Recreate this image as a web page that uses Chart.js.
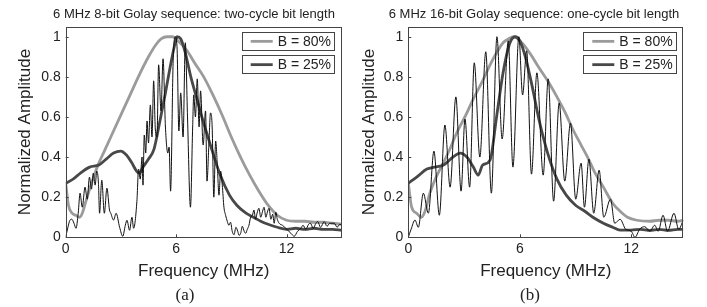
<!DOCTYPE html>
<html lang="en">
<head>
<meta charset="UTF-8" />
<title>Golay sequence spectra</title>
<script src="https://cdn.jsdelivr.net/npm/chart.js"></script>
<style>
  body { margin: 0; background: #fff; }
  #wrap { position: relative; width: 707px; height: 307px; }
  canvas { position: absolute; top: 0; }
</style>
</head>
<body>
<div id="wrap">
  <canvas id="chartA" width="353" height="307" style="left:0"></canvas>
  <canvas id="chartB" width="354" height="307" style="left:353px"></canvas>
</div>
<script>
// ---- tick labels ----
const xTicks = [0, 6, 12];
const yTicks = [0, 0.2, 0.4, 0.6, 0.8, 1];

// ---- (a) 8-bit Golay, two-cycle bit length ----
const aF80 = [0, 0.15, 0.35, 0.55, 0.75, 0.9, 1.1, 1.3, 1.55, 1.8, 2.1, 2.5, 3.0, 3.5, 4.0, 4.5, 4.9, 5.2, 5.5, 5.8, 6.1, 6.6, 7.0, 7.5, 8.0, 8.5, 9.0, 9.5, 10.0, 10.5, 11.0, 11.5, 12.0, 12.5, 13.0, 13.5, 14.0, 14.5, 15.0];
const aV80 = [0.27, 0.16, 0.12, 0.11, 0.10, 0.12, 0.18, 0.24, 0.31, 0.37, 0.43, 0.51, 0.61, 0.71, 0.81, 0.9, 0.96, 0.99, 1.0, 1.0, 0.98, 0.93, 0.87, 0.8, 0.71, 0.61, 0.5, 0.4, 0.31, 0.23, 0.16, 0.11, 0.085, 0.08, 0.08, 0.075, 0.075, 0.07, 0.065];

const aF25 = [0, 0.4, 0.8, 1.3, 1.8, 2.2, 2.6, 3.0, 3.3, 3.6, 3.85, 4.0, 4.2, 4.5, 4.8, 5.1, 5.4, 5.7, 5.9, 6.05, 6.25, 6.5, 6.8, 7.1, 7.4, 7.9, 8.4, 8.9, 9.3, 9.8, 10.2, 10.6, 11.0, 11.5, 12.0, 12.5, 13.0, 13.5, 14.0, 14.5, 15.0];
const aV25 = [0.27, 0.29, 0.32, 0.35, 0.36, 0.39, 0.42, 0.43, 0.41, 0.37, 0.33, 0.32, 0.35, 0.39, 0.44, 0.57, 0.71, 0.86, 0.95, 1.0, 0.99, 0.92, 0.8, 0.7, 0.6, 0.45, 0.31, 0.21, 0.16, 0.12, 0.1, 0.08, 0.065, 0.05, 0.04, 0.045, 0.04, 0.045, 0.04, 0.04, 0.035];

const aFG = [0, 0.12, 0.23, 0.33, 0.45, 0.56, 0.68, 0.78, 0.9, 1.05, 1.17, 1.29, 1.4, 1.5, 1.6, 1.69, 1.78, 1.84, 1.96, 2.1, 2.24, 2.38, 2.45, 2.6, 2.74, 2.93, 3.1, 3.24, 3.33, 3.47, 3.6, 3.69, 3.87, 3.96, 4.05, 4.15, 4.2, 4.27, 4.35, 4.42, 4.5, 4.6, 4.69, 4.78, 4.87, 4.96, 5.05, 5.18, 5.29, 5.42, 5.55, 5.62, 5.7, 5.84, 5.95, 6.05, 6.15, 6.25, 6.38, 6.5, 6.62, 6.78, 6.9, 6.96, 7.05, 7.15, 7.25, 7.33, 7.47, 7.6, 7.68, 7.78, 7.87, 7.96, 8.05, 8.15, 8.24, 8.33, 8.42, 8.51, 8.6, 8.69, 8.78, 8.87, 8.96, 9.05, 9.15, 9.25, 9.35, 9.42, 9.51, 9.6, 9.7, 9.78, 9.87, 9.96, 10.05, 10.15, 10.23, 10.32, 10.4, 10.5, 10.6, 10.7, 10.78, 10.88, 10.96, 11.05, 11.15, 11.25, 11.33, 11.42, 11.5, 11.6, 11.78, 11.9, 12.06, 12.24, 12.42, 12.6, 12.78, 12.9, 13.05, 13.2, 13.3, 13.45, 13.6, 13.7, 13.85, 14.05, 14.2, 14.35, 14.6, 14.75, 14.9, 15.0];
const aVG = [0.0, 0.05, 0.085, 0.09, 0.07, 0.045, 0.12, 0.22, 0.15, 0.25, 0.19, 0.30, 0.24, 0.32, 0.26, 0.33, 0.27, 0.12, 0.285, 0.12, 0.245, 0.136, 0.12, 0.086, 0.12, 0.05, 0.005, 0.06, 0.085, 0.035, 0.10, 0.045, 0.18, 0.34, 0.29, 0.40, 0.26, 0.51, 0.42, 0.58, 0.47, 0.66, 0.5, 0.78, 0.54, 0.5, 0.86, 0.63, 0.89, 0.55, 0.42, 0.45, 0.23, 0.88, 1.0, 0.95, 0.53, 0.72, 0.5, 0.97, 0.6, 0.15, 0.55, 0.71, 0.6, 0.79, 0.55, 0.73, 0.46, 0.63, 0.28, 0.46, 0.62, 0.55, 0.2, 0.48, 0.36, 0.21, 0.33, 0.26, 0.15, 0.11, 0.08, 0.06, 0.075, 0.03, 0.013, 0.05, 0.03, 0.01, 0.02, 0.055, 0.03, 0.02, 0.04, 0.06, 0.1, 0.11, 0.136, 0.09, 0.12, 0.145, 0.1, 0.13, 0.15, 0.1, 0.125, 0.145, 0.09, 0.115, 0.07, 0.125, 0.09, 0.07, 0.06, 0.05, 0.036, 0.02, 0.005, 0.03, 0.045, 0.06, 0.04, 0.065, 0.07, 0.045, 0.07, 0.078, 0.05, 0.078, 0.055, 0.07, 0.07, 0.05, 0.065, 0.06];

// ---- (b) 16-bit Golay, one-cycle bit length ----
const bF80 = [0, 0.18, 0.45, 0.7, 0.9, 1.16, 1.5, 1.88, 2.24, 2.6, 3.1, 3.5, 4.0, 4.4, 4.75, 5.1, 5.4, 5.7, 6.0, 6.3, 6.6, 7.0, 7.5, 8.0, 8.4, 8.9, 9.3, 9.7, 10.0, 10.5, 11.0, 11.4, 11.8, 12.3, 13.0, 13.5, 14.0, 14.5, 14.8];
const bV80 = [0.27, 0.15, 0.12, 0.10, 0.13, 0.22, 0.30, 0.37, 0.44, 0.52, 0.61, 0.69, 0.78, 0.86, 0.92, 0.97, 0.99, 1.0, 0.98, 0.95, 0.91, 0.85, 0.78, 0.7, 0.63, 0.53, 0.46, 0.39, 0.33, 0.25, 0.17, 0.13, 0.10, 0.085, 0.08, 0.085, 0.085, 0.08, 0.085];

const bF25 = [0, 0.45, 1.0, 1.4, 1.9, 2.4, 2.8, 3.15, 3.5, 3.76, 4.0, 4.4, 4.75, 5.1, 5.45, 5.75, 6.0, 6.3, 6.65, 7.05, 7.5, 8.0, 8.5, 9.0, 9.5, 10.0, 10.5, 11.0, 11.4, 12.0, 12.5, 13.0, 13.5, 14.0, 14.5, 14.8];
const bV25 = [0.27, 0.30, 0.34, 0.35, 0.36, 0.40, 0.42, 0.40, 0.35, 0.31, 0.36, 0.385, 0.6, 0.82, 0.965, 1.0, 0.98, 0.90, 0.76, 0.58, 0.42, 0.29, 0.21, 0.16, 0.13, 0.096, 0.07, 0.05, 0.036, 0.036, 0.04, 0.035, 0.04, 0.035, 0.04, 0.04];

const bFG = [0, 0.15, 0.36, 0.54, 0.81, 1.08, 1.38, 1.67, 1.97, 2.25, 2.56, 2.84, 3.05, 3.3, 3.55, 3.85, 4.17, 4.47, 4.77, 5.05, 5.38, 5.63, 5.95, 6.15, 6.37, 6.63, 6.92, 7.26, 7.53, 7.82, 8.12, 8.42, 8.73, 9.01, 9.3, 9.48, 9.72, 9.98, 10.27, 10.52, 10.88, 11.11, 11.4, 11.7, 12.0, 12.2, 12.45, 12.72, 13.0, 13.26, 13.45, 13.71, 13.95, 14.3, 14.55, 14.8];
const bVG = [0.0, 0.04, 0.086, 0.05, 0.22, 0.12, 0.43, 0.11, 0.56, 0.25, 0.70, 0.23, 0.59, 0.25, 0.87, 0.40, 0.925, 0.22, 1.0, 0.49, 0.98, 0.35, 1.0, 0.71, 0.93, 0.315, 0.82, 0.31, 0.79, 0.18, 0.67, 0.28, 0.57, 0.19, 0.37, 0.15, 0.39, 0.12, 0.335, 0.10, 0.19, 0.07, 0.09, 0.04, 0.03, 0.0, 0.04, 0.053, 0.03, 0.06, 0.03, 0.11, 0.03, 0.12, 0.04, 0.086];

Chart.defaults.font.family = "'Liberation Sans', Arial, sans-serif";
Chart.defaults.color = '#222';

const pts = (fs, vs) => fs.map((f, i) => ({ x: f, y: vs[i] }));

// frame, inward ticks, boxed legend, title and panel letter
const panelDecor = {
  id: 'panelDecor',
  afterDatasetsDraw(chart, args, opts) {
    const { ctx, chartArea: a, scales: { x, y } } = chart;
    ctx.save();
    ctx.strokeStyle = '#444';
    ctx.lineWidth = 1;
    ctx.strokeRect(Math.round(a.left) + 0.5, Math.round(a.top) + 0.5,
      Math.round(a.right - a.left) - 1, Math.round(a.bottom - a.top) - 1);
    ctx.beginPath();
    xTicks.forEach(v => {
      const px = Math.round(x.getPixelForValue(v)) + 0.5;
      ctx.moveTo(px, a.bottom); ctx.lineTo(px, a.bottom - 3);
    });
    yTicks.forEach(v => {
      const py = Math.round(y.getPixelForValue(v)) + 0.5;
      ctx.moveTo(a.left, py); ctx.lineTo(a.left + 3, py);
    });
    ctx.stroke();

    // two separate legend boxes
    const bw = opts.boxW, bh = 18.3;
    const bx = a.right - opts.boxRight - bw;
    chart.data.datasets.filter(d => d.inLegend).forEach((d, i) => {
      const by = a.top + 5 + i * 23.3;
      ctx.fillStyle = '#fff';
      ctx.fillRect(bx, by, bw, bh);
      ctx.strokeStyle = '#444';
      ctx.lineWidth = 1;
      ctx.strokeRect(Math.round(bx) + 0.5, Math.round(by) + 0.5, Math.round(bw), Math.round(bh));
      ctx.strokeStyle = d.borderColor;
      ctx.lineWidth = d.borderWidth;
      ctx.beginPath();
      ctx.moveTo(bx + 9, by + bh / 2 + 0.5);
      ctx.lineTo(bx + 31, by + bh / 2 + 0.5);
      ctx.stroke();
      ctx.fillStyle = '#222';
      ctx.font = "14px 'Liberation Sans', Arial";
      ctx.textAlign = 'left';
      ctx.textBaseline = 'middle';
      ctx.fillText(d.label, bx + 36, by + bh / 2 + 1);
    });
    ctx.restore();
  },
  afterDraw(chart, args, opts) {
    const { ctx } = chart;
    ctx.save();
    ctx.fillStyle = '#222';
    ctx.textAlign = 'center';
    ctx.textBaseline = 'middle';
    ctx.font = "13px 'Liberation Sans', Arial";
    ctx.fillText(opts.title, opts.titleX, 14.5);
    ctx.font = "17px 'Liberation Serif', 'Times New Roman', serif";
    ctx.fillText(opts.letter, opts.letterX, 296);
    ctx.restore();
  }
};

function makePanel(id, p) {
  return new Chart(document.getElementById(id), {
    type: 'line',
    data: {
      datasets: [
        { label: 'B = 80%', inLegend: true, data: pts(p.f80, p.v80), borderColor: '#9b9b9b', borderWidth: 2.8, order: 2 },
        { label: 'B = 25%', inLegend: true, data: pts(p.f25, p.v25), borderColor: '#484848', borderWidth: 2.8, order: 1 },
        { label: 'Golay', data: pts(p.fG, p.vG), borderColor: '#111', borderWidth: 1, order: 0 }
      ].map(d => Object.assign(d, {
        pointRadius: 0, fill: false, cubicInterpolationMode: 'monotone'
      }))
    },
    options: {
      responsive: false,
      animation: false,
      events: [],
      layout: { padding: { top: 26.7, right: p.padRight, left: 0, bottom: 0 } },
      plugins: {
        legend: { display: false },
        tooltip: { enabled: false },
        panelDecor: p.decor
      },
      scales: {
        x: {
          type: 'linear', min: 0, max: p.xMax,
          afterBuildTicks: s => { s.ticks = xTicks.map(v => ({ value: v })); },
          afterFit: s => { s.height = 69.7; },
          grid: { display: false, drawTicks: false },
          border: { display: false },
          ticks: { padding: 3, maxRotation: 0, font: { size: 14 }, callback: v => String(v) },
          title: { display: true, text: 'Frequency (MHz)', font: { size: 17 }, padding: { top: 0, bottom: 25 } }
        },
        y: {
          type: 'linear', min: 0, max: 1.05,
          afterBuildTicks: s => { s.ticks = yTicks.map(v => ({ value: v })); },
          afterFit: s => { s.width = p.yWidth; },
          grid: { display: false, drawTicks: false },
          border: { display: false },
          ticks: { padding: 5, font: { size: 14 }, callback: v => String(v) },
          title: { display: true, text: 'Normalized Amplitude', font: { size: 17 }, padding: { top: p.yTitlePad, bottom: 0 } }
        }
      }
    },
    plugins: [panelDecor]
  });
}

makePanel('chartA', {
  f80: aF80, v80: aV80, f25: aF25, v25: aV25, fG: aFG, vG: aVG,
  xMax: 15, padRight: 11.3, yWidth: 65.7, yTitlePad: 14.8,
  decor: { title: '6 MHz 8-bit Golay sequence: two-cycle bit length', titleX: 194, letter: '(a)', letterX: 185, boxW: 91.6, boxRight: 8.4 }
});
makePanel('chartB', {
  f80: bF80, v80: bV80, f25: bF25, v25: bV25, fG: bFG, vG: bVG,
  xMax: 14.8, padRight: 23.7, yWidth: 55.3, yTitlePad: 5.8,
  decor: { title: '6 MHz 16-bit Golay sequence: one-cycle bit length', titleX: 181, letter: '(b)', letterX: 177, boxW: 93.4, boxRight: 6.6 }
});
</script>
</body>
</html>
